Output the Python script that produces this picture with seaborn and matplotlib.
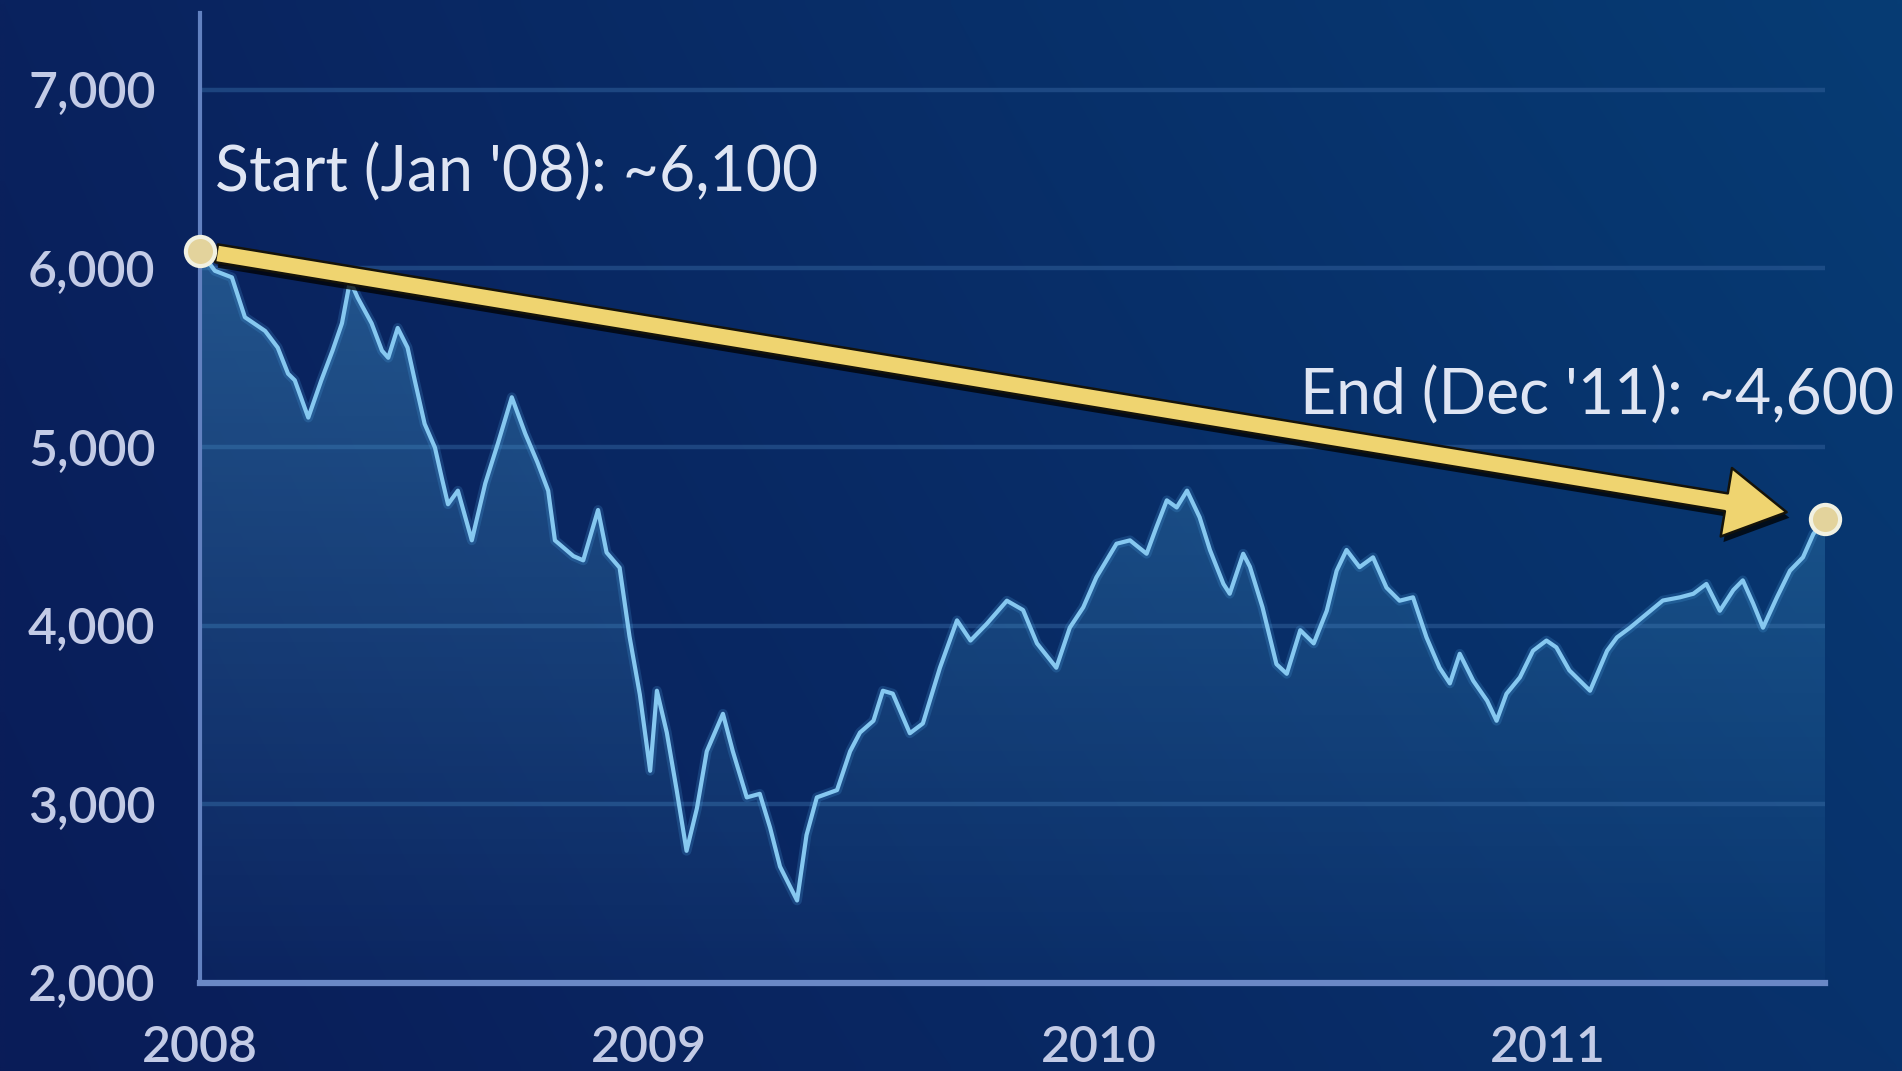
import numpy as np
import pandas as pd
import matplotlib
matplotlib.use("Agg")
import matplotlib.pyplot as plt
import matplotlib.patheffects as pe
import seaborn as sns

# Index level, sampled at decimal-year positions
years = [
    2008.000, 2008.033, 2008.071, 2008.100, 2008.145, 2008.173, 2008.196, 2008.211, 2008.241, 2008.270,
    2008.295, 2008.316, 2008.334, 2008.351, 2008.382, 2008.405, 2008.419, 2008.440, 2008.462, 2008.478,
    2008.500, 2008.523, 2008.538, 2008.552, 2008.574, 2008.605, 2008.635, 2008.663, 2008.694, 2008.724,
    2008.751, 2008.775, 2008.790, 2008.831, 2008.853, 2008.886, 2008.905, 2008.934, 2008.956, 2008.979,
    2009.002, 2009.017, 2009.039, 2009.061, 2009.083, 2009.106, 2009.128, 2009.164, 2009.186, 2009.217,
    2009.246, 2009.269, 2009.291, 2009.329, 2009.350, 2009.373, 2009.418, 2009.447, 2009.469, 2009.499,
    2009.520, 2009.542, 2009.580, 2009.609, 2009.647, 2009.685, 2009.715, 2009.751, 2009.796, 2009.832,
    2009.863, 2009.906, 2009.936, 2009.966, 2009.995, 2010.040, 2010.070, 2010.107, 2010.129, 2010.152,
    2010.174, 2010.197, 2010.225, 2010.248, 2010.278, 2010.292, 2010.322, 2010.337, 2010.365, 2010.396,
    2010.419, 2010.449, 2010.479, 2010.508, 2010.530, 2010.552, 2010.581, 2010.611, 2010.641, 2010.670,
    2010.700, 2010.730, 2010.759, 2010.782, 2010.804, 2010.834, 2010.865, 2010.886, 2010.908, 2010.938,
    2010.967, 2010.997, 2011.019, 2011.048, 2011.094, 2011.132, 2011.154, 2011.183, 2011.221, 2011.256,
    2011.294, 2011.324, 2011.353, 2011.383, 2011.413, 2011.434, 2011.457, 2011.479, 2011.510, 2011.539,
    2011.568, 2011.591, 2011.617,
]
values = [
    6100, 5987, 5950, 5727, 5650, 5557, 5411, 5374, 5165, 5374,
    5540, 5693, 5932, 5836, 5693, 5540, 5500, 5667, 5557, 5374,
    5130, 4997, 4830, 4680, 4756, 4478, 4797, 5020, 5279, 5075,
    4915, 4756, 4478, 4390, 4366, 4648, 4410, 4325, 3940, 3615,
    3188, 3636, 3402, 3080, 2740, 2977, 3297, 3507, 3297, 3039,
    3059, 2869, 2652, 2462, 2828, 3039, 3080, 3297, 3402, 3468,
    3636, 3620, 3398, 3453, 3765, 4030, 3917, 4010, 4140, 4088,
    3901, 3765, 3989, 4103, 4270, 4459, 4478, 4403, 4553, 4702,
    4662, 4756, 4607, 4424, 4234, 4179, 4403, 4330, 4103, 3785,
    3731, 3975, 3901, 4084, 4308, 4424, 4328, 4383, 4213, 4140,
    4159, 3935, 3765, 3677, 3843, 3692, 3580, 3468, 3619, 3711,
    3860, 3917, 3879, 3750, 3636, 3860, 3935, 3989, 4068, 4141,
    4159, 4179, 4234, 4084, 4200, 4254, 4125, 3989, 4159, 4308,
    4383, 4513, 4600,
]
x_ticks = [2008, 2009, 2010, 2011]
x_tick_labels = ["2008", "2009", "2010", "2011"]
y_ticks = [2000, 3000, 4000, 5000, 6000, 7000]
y_tick_labels = ["2,000", "3,000", "4,000", "5,000", "6,000", "7,000"]
start_label = "Start (Jan '08): ~6,100"
end_label = "End (Dec '11): ~4,600"

sns.set_style("dark")
plt.rcParams["font.family"] = ["Lato", "DejaVu Sans"]

W, H, DPI = 1902, 1071, 100
fig = plt.figure(figsize=(W / DPI, H / DPI), dpi=DPI)

# Navy backdrop with a soft diagonal gradient
bg = fig.add_axes([0, 0, 1, 1], zorder=0)
tl = np.array([10, 34, 94]) / 255
tr = np.array([6, 60, 116]) / 255
bl = np.array([10, 28, 88]) / 255
br = np.array([8, 50, 108]) / 255
u = np.linspace(0, 1, 200)[None, :, None]
v = np.linspace(0, 1, 120)[:, None, None]
grad_bg = (1 - v) * ((1 - u) * tl + u * tr) + v * ((1 - u) * bl + u * br)
bg.imshow(grad_bg, extent=[0, 1, 0, 1], aspect="auto", interpolation="bilinear")
bg.set_axis_off()

ax = fig.add_axes([200 / W, 1 - 983 / H, 1625 / W, 970 / H], zorder=1)
ax.set_facecolor("none")

df = pd.DataFrame({"year": years, "value": values})
x_lo, x_hi = years[0], years[-1]
y_lo, y_hi = 2000, 7430

# Area under the line, shaded with a vertical fade
area = ax.fill_between(df["year"], df["value"], y_lo, color="none", lw=0)
fade = np.zeros((100, 2, 4))
fade[..., 0], fade[..., 1], fade[..., 2] = 0.26, 0.58, 0.78
fade[..., 3] = np.linspace(0.05, 0.45, 100)[:, None]
img = ax.imshow(fade, extent=[x_lo, x_hi, y_lo, 6200], origin="lower",
                aspect="auto", interpolation="bilinear", zorder=2)
img.set_clip_path(area.get_paths()[0], transform=ax.transData)

sns.lineplot(data=df, x="year", y="value", ax=ax, color="#86c8f0", lw=3.0,
             zorder=4, path_effects=[pe.Stroke(linewidth=7, foreground="#4a9ede", alpha=0.22),
                                     pe.Normal()])

# Trend arrow from first to last reading
arrow = ax.annotate(
    "", xy=(years[-1], values[-1]), xytext=(years[0], values[0]),
    arrowprops=dict(arrowstyle="simple,head_length=4.4,head_width=5.0,tail_width=1.3",
                    mutation_scale=10, fc="#efd470", ec="#15130a", lw=1.8,
                    shrinkA=12, shrinkB=28),
    annotation_clip=False, zorder=5)
arrow.arrow_patch.set_path_effects([
    pe.SimplePatchShadow(offset=(2, -4), shadow_rgbFace="black", alpha=0.75),
    pe.Normal()])

# Start / end markers
ax.plot([years[0], years[-1]], [values[0], values[-1]], "o", ms=21,
        mfc="#e3d39c", mec="#f1f1e2", mew=3, clip_on=False, zorder=6)

txt_kw = dict(textcoords="offset points", fontsize=45, color="#dfe5f3",
              va="center", annotation_clip=False, zorder=7)
ax.annotate(start_label, xy=(years[0], values[0]), xytext=(11, 56), ha="left", **txt_kw)
ax.annotate(end_label, xy=(years[-1], values[-1]), xytext=(50, 88), ha="right", **txt_kw)

ax.set_xlim(x_lo, x_hi)
ax.set_ylim(y_lo, y_hi)
ax.set_xticks(x_ticks, x_tick_labels)
ax.set_yticks(y_ticks, y_tick_labels)
ax.set_xlabel("")
ax.set_ylabel("")
ax.tick_params(axis="both", length=0, labelsize=36, labelcolor="#c3cbe6")
for lab in ax.get_xticklabels() + ax.get_yticklabels():
    lab.set_fontweight("semibold")
ax.tick_params(axis="y", pad=32)
ax.tick_params(axis="x", pad=30)

ax.grid(axis="y", color="#2c5a95", lw=3.2, alpha=0.6)
ax.grid(axis="x", visible=False)
ax.set_axisbelow(True)

for side in ("top", "right"):
    ax.spines[side].set_visible(False)
ax.spines["left"].set_color("#6281c0")
ax.spines["left"].set_linewidth(3)
ax.spines["bottom"].set_color("#6a88c6")
ax.spines["bottom"].set_linewidth(4.5)
ax.spines["left"].set_zorder(3)
ax.spines["bottom"].set_zorder(3)

fig.savefig("out.png", dpi=DPI)
